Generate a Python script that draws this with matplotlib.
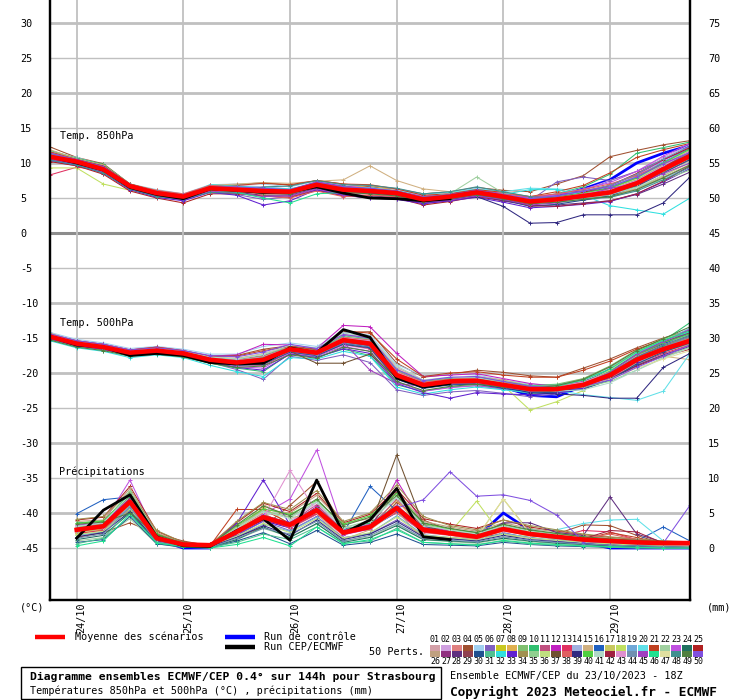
import matplotlib
matplotlib.use('Agg')
import matplotlib.pyplot as plt
from matplotlib.patches import Rectangle
from matplotlib.lines import Line2D

plt.rcParams['font.family'] = ['DejaVu Sans Mono']
plt.rcParams['axes.unicode_minus'] = False

# time axis: hours after 23/10/2023 18Z
hours = [0, 6, 12, 18, 24, 30, 36, 42, 48, 54, 60, 66, 72, 78, 84, 90, 96, 102, 108, 114, 120, 126, 132, 138, 144]
date_hours = [6, 30, 54, 78, 102, 126]
date_labels = ['24/10', '25/10', '26/10', '27/10', '28/10', '29/10']

left_ticks = [30, 25, 20, 15, 10, 5, 0, -5, -10, -15, -20, -25, -30, -35, -40, -45]
right_ticks = [75, 70, 65, 60, 55, 50, 45, 40, 35, 30, 25, 20, 15, 10, 5, 0]

member_colors = [
    '#d4a0a8', '#d0a0e0', '#e08080', '#a05030', '#a0d0f0', '#8060c0', '#c8c820', '#e0b050', '#80c070', '#30c070',
    '#c05080', '#c020c0', '#e03060', '#a0b0e0', '#d0b080', '#2060c0', '#c8c860', '#c0e060', '#70a8d8', '#60e0e8',
    '#c04020', '#a0d0a0', '#c050e0', '#207060', '#b02020',
    '#c0a080', '#903080', '#603080', '#904050', '#205090', '#50c090', '#30e0e0', '#6020d0', '#a09050', '#90d090',
    '#c0e080', '#705030', '#e06060', '#302880', '#50d040', '#b0d8c8', '#a02040', '#e090d0', '#7090b0', '#a040c0',
    '#20e090', '#e0e0a0', '#409090', '#508040', '#8050e0',
]

# Temperature 850 hPa (°C), 50 perturbed members
t850_members = [
    [10.5, 10.0, 9.3, 6.5, 5.5, 5.0, 6.2, 6.5, 6.3, 6.1, 7.0, 6.5, 6.3, 5.9, 5.0, 5.4, 6.0, 5.5, 4.8, 5.2, 5.8, 6.6, 8.0, 10.1, 12.0],
    [11.2, 10.4, 9.6, 7.0, 5.9, 5.4, 6.6, 6.8, 6.6, 6.3, 7.2, 6.9, 6.6, 6.2, 5.3, 5.5, 6.1, 5.6, 5.0, 5.6, 6.2, 7.5, 8.8, 10.8, 12.6],
    [10.8, 10.1, 8.8, 6.4, 5.4, 4.9, 6.1, 5.9, 5.6, 5.5, 6.5, 5.8, 5.5, 5.2, 4.4, 4.8, 5.4, 4.9, 4.3, 4.5, 5.0, 5.4, 6.6, 8.6, 10.4],
    [12.3, 10.8, 9.9, 7.0, 6.0, 5.5, 6.8, 6.9, 7.2, 6.8, 7.5, 7.0, 6.6, 6.3, 5.6, 5.9, 6.5, 6.1, 5.9, 7.0, 8.2, 10.9, 11.8, 12.6, 13.2],
    [11.6, 10.8, 9.7, 7.0, 6.2, 5.6, 6.9, 7.0, 7.0, 6.6, 7.4, 6.9, 6.8, 6.3, 5.4, 5.8, 6.4, 5.8, 5.0, 4.9, 5.0, 5.4, 6.4, 8.2, 10.2],
    [10.3, 9.6, 8.6, 6.2, 5.2, 4.7, 5.9, 5.5, 4.8, 5.2, 6.2, 5.4, 5.0, 4.9, 4.2, 4.6, 5.3, 4.7, 4.6, 7.3, 8.0, 7.5, 8.8, 10.5, 12.0],
    [11.5, 10.6, 9.5, 6.9, 5.9, 5.4, 6.5, 6.3, 6.1, 6.0, 7.1, 6.3, 6.1, 5.8, 4.9, 5.3, 5.9, 5.3, 4.6, 4.9, 5.3, 5.9, 7.3, 9.4, 11.4],
    [10.6, 10.0, 9.2, 6.6, 5.6, 5.1, 6.3, 6.1, 6.2, 5.8, 7.0, 6.4, 6.8, 6.0, 5.1, 5.0, 5.6, 5.1, 4.3, 4.6, 5.1, 5.6, 6.8, 8.8, 10.8],
    [11.0, 10.2, 9.1, 6.8, 5.8, 5.3, 6.4, 6.4, 6.3, 6.2, 7.2, 6.6, 6.2, 5.9, 5.0, 5.3, 6.1, 5.4, 4.7, 5.0, 5.6, 6.3, 7.8, 9.6, 11.4],
    [11.8, 10.7, 9.8, 7.0, 5.9, 5.4, 6.5, 6.2, 5.8, 5.6, 7.0, 6.1, 5.8, 5.6, 4.7, 5.0, 5.6, 5.3, 4.9, 5.6, 6.6, 8.4, 11.4, 12.2, 13.0],
    [10.7, 10.1, 8.9, 6.5, 5.5, 5.0, 6.2, 6.0, 5.7, 5.7, 6.7, 6.0, 5.8, 5.5, 4.6, 5.0, 5.5, 5.0, 4.4, 4.7, 5.2, 5.7, 6.9, 8.8, 10.6],
    [11.3, 10.5, 9.4, 6.9, 5.9, 5.3, 6.6, 6.6, 6.4, 6.1, 7.3, 6.7, 6.4, 6.0, 5.2, 5.6, 6.2, 5.6, 5.1, 5.5, 6.0, 6.8, 8.3, 10.4, 12.3],
    [8.3, 9.4, 9.0, 6.6, 5.6, 5.1, 6.3, 6.2, 5.9, 6.0, 6.9, 6.1, 5.9, 5.6, 4.7, 5.1, 5.7, 5.2, 4.6, 4.9, 5.5, 6.1, 7.4, 9.0, 10.7],
    [10.9, 10.2, 9.2, 6.7, 5.7, 5.2, 6.4, 6.1, 5.8, 5.8, 6.8, 6.1, 5.9, 5.5, 4.6, 4.9, 5.4, 4.8, 4.1, 4.3, 4.7, 5.1, 6.1, 7.8, 9.5],
    [11.9, 10.6, 9.7, 7.0, 6.1, 5.4, 6.8, 7.0, 7.2, 7.1, 7.4, 7.6, 9.6, 7.5, 6.3, 5.9, 6.0, 5.5, 4.9, 5.2, 5.6, 6.2, 7.5, 9.3, 11.2],
    [11.1, 10.3, 9.3, 6.8, 5.7, 5.2, 6.5, 6.4, 6.2, 6.0, 7.0, 6.3, 6.1, 5.9, 5.0, 5.4, 6.0, 5.3, 4.7, 5.1, 5.8, 6.5, 7.9, 10.1, 12.1],
    [10.6, 9.9, 8.7, 6.4, 5.4, 4.9, 6.1, 5.9, 5.6, 5.6, 6.6, 5.9, 5.7, 5.4, 4.5, 4.9, 5.5, 4.9, 4.2, 4.4, 4.9, 5.3, 6.4, 8.2, 10.1],
    [9.3, 9.3, 7.0, 6.1, 5.2, 4.8, 6.0, 6.0, 5.8, 5.9, 6.8, 6.2, 6.0, 5.7, 4.8, 5.2, 5.8, 5.2, 4.6, 4.8, 5.3, 5.9, 7.2, 9.0, 10.9],
    [11.4, 10.4, 9.5, 6.9, 5.8, 5.3, 6.6, 6.5, 6.3, 6.1, 7.2, 6.5, 6.3, 5.9, 5.0, 5.4, 6.0, 5.4, 4.8, 5.2, 5.9, 6.6, 8.1, 10.2, 12.0],
    [10.4, 9.8, 8.5, 6.3, 5.3, 4.8, 6.1, 6.3, 6.1, 6.2, 6.9, 6.4, 6.5, 6.0, 5.6, 5.8, 6.3, 5.9, 6.4, 6.3, 6.0, 6.6, 8.0, 9.8, 11.3],
    [11.6, 10.5, 9.6, 7.0, 6.0, 5.4, 6.7, 6.8, 7.1, 6.9, 7.5, 7.0, 6.9, 6.3, 5.4, 5.6, 6.2, 5.8, 5.2, 5.9, 6.8, 8.6, 10.8, 11.9, 12.8],
    [10.8, 10.1, 9.0, 6.6, 5.6, 5.1, 6.3, 6.2, 6.0, 6.1, 6.9, 6.3, 6.1, 6.0, 5.1, 5.6, 8.0, 5.7, 4.8, 5.0, 5.4, 5.9, 7.0, 8.8, 10.6],
    [11.2, 10.4, 9.4, 6.8, 5.8, 5.3, 6.5, 6.4, 6.2, 6.0, 7.1, 6.5, 6.2, 5.8, 5.0, 5.3, 5.9, 5.5, 5.0, 5.5, 6.3, 7.2, 8.8, 11.0, 12.8],
    [10.7, 10.0, 8.9, 6.5, 5.5, 5.0, 6.2, 6.0, 5.7, 5.7, 6.7, 6.0, 5.8, 5.6, 4.7, 5.1, 5.6, 5.1, 4.4, 4.6, 5.0, 5.5, 6.8, 8.9, 11.0],
    [10.2, 9.6, 8.4, 6.0, 5.0, 4.3, 5.6, 5.6, 5.3, 5.1, 6.1, 5.3, 5.1, 5.0, 4.0, 4.5, 5.2, 4.6, 4.1, 4.8, 5.8, 6.8, 8.5, 10.5, 12.2],
    [10.9, 10.3, 9.3, 6.8, 5.8, 5.3, 6.5, 6.3, 6.1, 6.0, 6.9, 6.2, 6.0, 5.6, 4.7, 5.0, 5.6, 5.0, 4.3, 4.5, 4.9, 5.3, 6.3, 8.0, 9.8],
    [11.1, 10.2, 9.1, 6.7, 5.6, 5.1, 6.3, 6.1, 5.9, 5.8, 6.8, 6.1, 5.9, 5.6, 4.8, 5.2, 5.8, 5.2, 4.6, 5.0, 5.5, 6.1, 7.4, 9.5, 11.6],
    [10.5, 9.9, 8.8, 6.4, 5.4, 4.9, 6.1, 5.8, 5.4, 5.4, 6.4, 5.6, 5.3, 5.1, 4.3, 4.7, 5.4, 4.6, 3.9, 4.0, 4.3, 4.6, 5.5, 7.0, 8.7],
    [11.3, 10.5, 9.5, 6.9, 5.9, 5.4, 6.6, 6.5, 6.3, 6.1, 7.2, 6.6, 6.3, 6.0, 5.1, 5.5, 6.1, 5.4, 4.7, 5.1, 5.7, 6.4, 7.6, 9.5, 11.3],
    [10.6, 10.0, 9.0, 6.6, 5.6, 5.1, 6.3, 6.0, 5.8, 5.7, 6.7, 6.0, 5.8, 5.5, 4.6, 5.0, 5.5, 4.8, 3.8, 4.1, 4.7, 5.3, 6.7, 8.6, 10.5],
    [11.0, 10.3, 9.2, 6.7, 5.7, 5.2, 6.4, 6.4, 6.1, 6.1, 7.0, 6.4, 6.2, 5.8, 4.9, 5.3, 5.9, 5.3, 4.6, 4.9, 5.5, 6.2, 7.6, 9.7, 11.8],
    [10.8, 10.1, 9.1, 6.7, 5.7, 5.2, 6.9, 6.7, 6.5, 6.3, 7.1, 6.6, 6.3, 5.9, 5.0, 5.4, 6.0, 5.5, 6.2, 6.2, 5.4, 3.9, 3.3, 2.7, 5.0],
    [10.4, 9.7, 8.6, 6.2, 5.1, 4.6, 5.8, 5.4, 4.0, 4.6, 6.2, 5.4, 5.0, 4.8, 4.2, 4.6, 5.1, 4.4, 3.6, 3.8, 4.1, 4.5, 5.6, 7.3, 9.2],
    [11.2, 10.4, 9.3, 6.8, 5.8, 5.3, 6.5, 6.3, 6.0, 6.0, 7.0, 6.3, 6.0, 5.8, 4.9, 5.3, 5.8, 5.2, 4.5, 4.8, 5.2, 5.7, 7.0, 8.9, 10.8],
    [10.9, 10.1, 9.0, 6.6, 5.6, 5.1, 6.3, 6.1, 5.8, 5.8, 6.8, 6.1, 5.8, 5.5, 4.7, 5.1, 5.6, 4.9, 4.3, 4.5, 5.0, 5.6, 6.6, 7.6, 9.0],
    [11.1, 10.4, 9.4, 6.8, 5.8, 5.3, 6.6, 6.5, 6.2, 6.0, 7.1, 6.4, 6.1, 5.8, 5.0, 5.4, 6.0, 5.3, 4.6, 5.0, 5.6, 6.3, 7.7, 9.8, 11.9],
    [10.7, 10.0, 8.9, 6.5, 5.5, 5.0, 6.2, 6.0, 5.9, 5.8, 6.8, 6.2, 5.9, 5.6, 4.7, 5.1, 5.7, 5.1, 4.4, 4.6, 5.1, 5.7, 7.0, 9.0, 11.0],
    [11.5, 10.4, 9.2, 6.9, 6.1, 5.6, 6.8, 6.6, 5.3, 5.0, 6.0, 5.2, 5.4, 5.2, 4.5, 4.9, 5.5, 5.6, 5.2, 5.6, 6.2, 7.0, 8.2, 9.9, 11.5],
    [10.6, 9.9, 8.9, 6.5, 5.5, 5.0, 6.2, 6.0, 5.7, 5.6, 6.6, 5.9, 5.7, 5.4, 4.6, 4.8, 5.2, 3.8, 1.4, 1.5, 2.6, 2.6, 2.6, 4.3, 8.0],
    [11.2, 10.4, 9.3, 6.8, 5.8, 5.3, 6.5, 6.4, 6.2, 6.1, 7.1, 6.4, 6.2, 5.9, 5.0, 5.4, 6.0, 5.4, 4.7, 5.1, 5.7, 6.4, 7.9, 10.0, 12.0],
    [10.8, 10.1, 9.0, 6.6, 5.6, 5.1, 6.3, 6.1, 5.9, 5.8, 6.8, 6.1, 5.9, 5.6, 4.7, 5.1, 5.6, 5.0, 4.4, 4.6, 5.0, 5.5, 6.5, 8.3, 10.2],
    [11.0, 10.3, 9.2, 6.7, 5.7, 5.2, 6.4, 6.2, 6.0, 5.9, 6.9, 6.2, 6.0, 5.6, 4.8, 5.1, 5.6, 4.9, 3.9, 3.8, 4.2, 4.6, 5.6, 7.4, 9.6],
    [10.9, 10.2, 9.1, 6.7, 5.7, 5.2, 6.4, 6.3, 6.1, 5.9, 7.0, 6.3, 6.1, 5.8, 4.9, 5.3, 5.9, 5.3, 4.6, 5.0, 5.6, 6.2, 7.5, 9.6, 11.7],
    [11.3, 10.4, 9.4, 6.9, 5.9, 5.4, 6.6, 6.5, 6.3, 6.2, 7.2, 6.5, 6.3, 5.9, 5.1, 5.4, 6.0, 5.4, 4.8, 5.3, 6.0, 6.8, 8.4, 10.6, 12.4],
    [10.5, 9.8, 8.7, 6.3, 5.3, 4.8, 6.0, 5.7, 5.2, 5.3, 6.3, 5.5, 5.1, 5.0, 4.4, 4.7, 5.3, 4.8, 4.0, 4.3, 5.3, 6.4, 7.0, 8.5, 10.0],
    [11.1, 10.3, 9.3, 6.8, 5.8, 5.3, 6.2, 5.8, 5.0, 4.3, 5.6, 5.8, 5.9, 5.7, 4.8, 5.2, 5.8, 5.2, 4.5, 4.8, 5.2, 5.8, 7.1, 9.0, 10.9],
    [10.7, 10.0, 9.0, 6.6, 5.6, 5.1, 6.3, 6.1, 5.9, 5.8, 6.8, 6.1, 5.9, 5.6, 4.7, 5.1, 5.7, 5.1, 4.4, 4.7, 5.2, 5.8, 7.0, 9.1, 11.1],
    [10.4, 9.7, 8.6, 6.3, 5.2, 4.9, 5.8, 5.7, 6.6, 6.7, 7.5, 6.9, 6.8, 6.4, 5.6, 5.9, 6.6, 5.9, 5.2, 5.0, 4.9, 5.1, 6.0, 7.6, 9.4],
    [10.8, 10.1, 9.0, 6.6, 5.6, 5.1, 6.3, 6.0, 5.7, 5.6, 6.6, 5.8, 5.6, 5.3, 4.5, 4.9, 5.5, 4.9, 4.2, 4.4, 4.8, 5.2, 6.2, 7.9, 9.7],
    [11.4, 10.5, 9.5, 6.9, 5.9, 5.4, 6.6, 6.6, 6.4, 6.2, 7.3, 6.6, 6.4, 6.0, 5.1, 5.5, 6.1, 5.5, 4.9, 5.3, 6.0, 6.6, 8.0, 9.9, 11.5],
]
t850_mean = [10.9, 10.2, 9.1, 6.7, 5.7, 5.2, 6.4, 6.2, 6.0, 5.9, 6.9, 6.2, 6.0, 5.7, 4.8, 5.2, 5.8, 5.2, 4.5, 4.8, 5.3, 5.8, 7.1, 9.1, 11.0]
t850_ctrl = [10.9, 10.1, 9.2, 6.6, 5.6, 5.1, 6.4, 6.3, 6.1, 6.0, 7.0, 6.3, 6.1, 5.8, 4.9, 5.3, 5.9, 5.3, 4.7, 5.2, 6.3, 7.6, 10.0, 11.4, 12.5]
t850_det = [10.9, 10.0, 9.0, 6.5, 5.5, 4.9, 6.3, 6.1, 5.8, 5.9, 6.6, 5.7, 5.0, 4.9, 4.6, 4.9]

# Temperature 500 hPa (°C)
t500_members = [
    [-14.6, -15.6, -16.0, -16.9, -16.5, -17.0, -17.9, -18.0, -17.2, -16.2, -16.8, -14.5, -14.9, -19.2, -21.0, -20.8, -20.8, -21.4, -22.0, -21.8, -20.8, -19.2, -17.0, -15.6, -14.6],
    [-15.0, -16.0, -16.5, -17.3, -17.0, -17.4, -18.4, -19.0, -19.0, -17.0, -17.5, -16.0, -16.6, -20.9, -22.1, -21.6, -21.4, -22.0, -22.6, -22.7, -22.2, -21.0, -19.0, -17.4, -16.0],
    [-14.9, -15.9, -16.4, -17.2, -16.9, -17.3, -18.2, -18.6, -18.3, -16.7, -17.2, -15.5, -16.0, -20.4, -21.8, -21.3, -21.2, -21.8, -22.4, -22.4, -21.8, -20.5, -18.3, -16.8, -15.6],
    [-14.7, -15.5, -16.0, -16.8, -16.4, -16.9, -17.6, -17.5, -16.6, -16.1, -16.6, -14.2, -14.1, -18.6, -20.6, -20.2, -19.6, -19.9, -20.4, -20.6, -19.3, -18.0, -16.4, -15.0, -13.9],
    [-14.2, -15.2, -15.7, -16.5, -16.2, -16.6, -17.3, -17.3, -16.2, -15.7, -16.2, -14.1, -14.6, -18.8, -20.4, -20.1, -20.3, -21.0, -21.6, -21.7, -21.2, -20.0, -18.1, -16.8, -15.9],
    [-15.1, -16.1, -16.6, -17.4, -17.1, -17.5, -18.5, -19.5, -20.9, -17.6, -18.2, -17.4, -18.5, -22.4, -23.2, -22.7, -22.5, -22.9, -23.4, -23.0, -22.0, -20.5, -17.9, -16.1, -14.7],
    [-14.5, -15.6, -16.1, -16.9, -16.6, -17.0, -17.9, -18.2, -17.7, -16.5, -17.0, -15.0, -15.4, -19.9, -21.4, -20.9, -20.9, -21.5, -22.1, -22.0, -21.4, -20.0, -17.8, -16.2, -14.9],
    [-14.9, -15.9, -16.4, -17.2, -16.9, -17.3, -18.3, -18.8, -18.6, -16.8, -17.3, -15.7, -16.2, -20.6, -21.9, -21.4, -21.3, -21.9, -22.5, -22.5, -22.0, -20.7, -18.5, -17.0, -15.8],
    [-14.6, -15.7, -16.2, -17.0, -16.7, -17.1, -18.0, -18.3, -17.8, -16.4, -16.9, -14.9, -15.3, -19.8, -21.3, -20.9, -20.8, -21.3, -21.8, -21.6, -20.8, -19.0, -16.7, -15.1, -13.8],
    [-15.2, -16.2, -16.7, -17.5, -17.2, -17.6, -18.6, -19.3, -19.8, -17.2, -17.7, -16.6, -17.5, -21.7, -22.6, -22.0, -21.8, -22.3, -22.9, -22.8, -21.9, -20.2, -17.6, -15.4, -12.8],
    [-14.8, -15.9, -16.4, -17.2, -16.8, -17.3, -18.2, -18.6, -18.2, -16.7, -17.2, -15.4, -15.9, -20.4, -21.8, -21.3, -21.2, -21.8, -22.4, -22.4, -21.8, -20.4, -18.3, -16.8, -15.7],
    [-14.4, -15.4, -15.9, -16.7, -16.3, -16.8, -17.6, -17.4, -15.9, -16.0, -16.5, -13.2, -13.4, -17.2, -20.5, -20.3, -20.1, -20.8, -21.5, -21.9, -21.2, -19.8, -17.6, -16.0, -14.8],
    [-15.0, -16.1, -16.6, -17.4, -17.1, -17.5, -18.4, -18.9, -18.9, -17.0, -17.5, -15.9, -16.5, -20.8, -22.0, -21.5, -21.4, -22.0, -22.6, -22.6, -22.1, -20.8, -18.7, -17.2, -16.0],
    [-14.7, -15.7, -16.2, -17.0, -16.7, -17.1, -18.0, -18.4, -17.9, -16.5, -17.0, -15.1, -15.6, -20.1, -21.5, -21.1, -21.0, -21.6, -22.2, -22.1, -21.6, -20.3, -18.4, -17.6, -16.2],
    [-14.3, -15.5, -16.0, -16.8, -16.4, -16.9, -17.7, -17.9, -17.3, -16.3, -16.8, -14.6, -15.0, -19.4, -21.2, -20.8, -20.5, -21.0, -21.8, -21.9, -21.4, -20.5, -18.7, -17.6, -18.1],
    [-14.9, -15.8, -16.3, -17.1, -16.8, -17.2, -18.1, -18.6, -18.2, -16.7, -17.2, -15.5, -16.0, -20.5, -21.9, -21.4, -21.3, -21.9, -22.4, -22.3, -21.3, -19.6, -17.3, -15.6, -14.3],
    [-14.8, -15.7, -16.2, -17.0, -16.7, -17.1, -18.0, -18.4, -18.0, -16.5, -17.0, -15.2, -15.7, -20.2, -21.6, -21.1, -21.0, -21.6, -22.2, -22.2, -21.6, -20.1, -17.9, -16.4, -15.2],
    [-14.6, -15.6, -16.1, -16.9, -16.6, -17.0, -17.9, -18.2, -17.6, -16.4, -16.9, -14.9, -15.4, -19.9, -21.4, -21.0, -21.0, -21.8, -25.3, -24.1, -22.5, -20.2, -17.8, -16.2, -15.0],
    [-15.0, -16.0, -16.5, -17.3, -17.0, -17.4, -18.4, -18.9, -18.8, -16.9, -17.4, -15.8, -16.3, -20.7, -22.0, -21.5, -21.4, -22.0, -22.6, -22.6, -22.0, -20.6, -18.0, -15.5, -13.6],
    [-14.7, -15.7, -16.2, -17.0, -16.7, -17.1, -18.0, -18.3, -17.8, -16.5, -17.0, -15.0, -15.5, -20.0, -21.5, -21.0, -20.9, -21.6, -22.2, -22.5, -23.1, -23.5, -23.9, -22.6, -17.2],
    [-14.5, -15.4, -15.9, -16.7, -16.3, -16.8, -17.6, -17.6, -16.8, -16.2, -16.7, -14.0, -14.3, -18.0, -20.5, -20.0, -19.8, -20.3, -20.6, -20.6, -19.6, -18.3, -16.6, -15.3, -14.2],
    [-14.9, -15.9, -16.4, -17.2, -16.9, -17.3, -18.3, -18.7, -18.4, -16.8, -17.3, -15.6, -16.1, -20.5, -21.9, -21.4, -21.3, -21.9, -22.5, -22.5, -21.9, -20.2, -17.8, -16.0, -14.4],
    [-15.1, -16.1, -16.6, -17.4, -17.1, -17.5, -18.5, -19.1, -19.3, -17.1, -17.6, -16.2, -16.9, -21.3, -22.6, -22.1, -21.8, -22.3, -22.8, -22.7, -21.8, -20.2, -17.8, -16.1, -14.9],
    [-14.7, -15.7, -16.2, -17.0, -16.7, -17.1, -18.0, -18.4, -17.9, -16.5, -17.0, -15.2, -15.7, -20.2, -21.6, -21.1, -21.0, -21.6, -22.2, -22.2, -21.5, -20.0, -17.7, -16.1, -14.7],
    [-14.8, -15.8, -16.3, -17.1, -16.8, -17.2, -18.1, -18.5, -18.2, -16.7, -17.2, -15.5, -16.0, -20.6, -22.0, -21.5, -21.4, -22.0, -22.5, -22.5, -22.0, -20.9, -19.0, -17.6, -16.6],
    [-14.6, -15.6, -16.1, -16.9, -16.6, -17.0, -17.9, -18.2, -17.7, -16.4, -16.9, -15.0, -15.4, -19.9, -21.4, -20.9, -20.8, -21.4, -22.0, -22.0, -21.4, -20.2, -18.2, -16.9, -15.9],
    [-14.9, -15.9, -16.4, -17.2, -16.9, -17.3, -18.2, -18.7, -18.4, -16.8, -17.3, -15.6, -16.1, -20.5, -21.9, -21.4, -21.3, -21.9, -22.5, -22.4, -21.7, -20.1, -17.6, -15.7, -14.1],
    [-15.0, -16.0, -16.5, -17.3, -17.0, -17.4, -18.3, -18.8, -18.6, -16.9, -17.4, -15.7, -16.2, -20.6, -22.0, -21.5, -21.4, -22.0, -22.6, -22.6, -22.1, -20.9, -18.9, -17.4, -16.2],
    [-14.7, -15.7, -16.2, -17.0, -16.7, -17.1, -18.0, -18.3, -17.9, -16.5, -17.0, -15.1, -15.6, -20.1, -21.5, -21.0, -20.9, -21.5, -22.1, -22.1, -21.5, -20.2, -18.0, -16.5, -15.3],
    [-15.0, -16.0, -16.5, -17.3, -17.0, -17.4, -18.4, -18.9, -18.7, -17.0, -17.5, -15.9, -16.4, -20.9, -22.2, -21.7, -21.6, -22.2, -22.8, -22.8, -22.3, -21.0, -18.7, -17.0, -15.7],
    [-14.6, -15.6, -16.1, -16.9, -16.5, -17.0, -17.8, -18.1, -17.5, -16.3, -16.8, -14.7, -15.1, -19.6, -21.2, -20.7, -20.6, -21.2, -21.8, -21.7, -21.0, -19.5, -17.1, -15.3, -13.9],
    [-15.4, -16.4, -16.9, -17.8, -17.4, -17.8, -18.9, -19.8, -20.5, -17.8, -18.0, -16.9, -17.6, -22.0, -23.0, -22.4, -22.0, -22.4, -22.8, -22.5, -21.5, -19.6, -17.1, -15.3, -14.1],
    [-15.1, -16.1, -16.6, -17.4, -17.1, -17.5, -18.5, -19.2, -19.6, -17.3, -17.8, -16.5, -17.2, -21.5, -22.8, -23.6, -22.8, -23.0, -23.1, -22.9, -22.1, -20.6, -18.4, -16.7, -15.4],
    [-14.8, -15.8, -16.3, -17.1, -16.8, -17.2, -18.1, -18.5, -18.1, -16.6, -17.1, -15.3, -15.8, -20.2, -21.6, -21.1, -21.0, -21.6, -22.1, -22.0, -21.3, -19.8, -17.5, -16.0, -14.9],
    [-14.7, -15.7, -16.2, -17.0, -16.7, -17.1, -18.0, -18.4, -17.9, -16.5, -17.0, -15.2, -15.7, -20.2, -21.6, -21.1, -21.0, -21.6, -22.2, -22.4, -22.0, -21.2, -19.6, -17.8, -16.3],
    [-14.9, -15.9, -16.4, -17.2, -16.9, -17.3, -18.2, -18.7, -18.3, -16.7, -17.2, -15.4, -15.9, -20.4, -21.8, -21.3, -21.2, -21.8, -22.4, -22.3, -21.5, -19.6, -17.0, -15.2, -14.0],
    [-14.9, -15.9, -16.4, -17.3, -17.0, -17.4, -18.3, -18.8, -18.5, -16.9, -18.6, -18.6, -17.3, -20.7, -22.0, -21.5, -21.4, -22.0, -22.6, -22.6, -21.9, -20.5, -18.2, -16.7, -15.5],
    [-14.6, -15.6, -16.1, -16.9, -16.6, -17.0, -17.9, -18.2, -17.6, -16.4, -16.9, -14.9, -15.3, -19.8, -21.3, -20.9, -20.8, -21.4, -22.0, -22.0, -21.4, -20.0, -17.8, -16.3, -15.1],
    [-15.0, -16.0, -16.5, -17.3, -17.0, -17.4, -18.3, -18.8, -18.6, -16.9, -17.4, -15.7, -16.2, -20.6, -22.0, -21.5, -21.4, -22.0, -22.8, -23.0, -23.2, -23.6, -23.6, -19.2, -17.2],
    [-14.7, -15.7, -16.2, -17.0, -16.7, -17.1, -18.0, -18.4, -18.0, -16.6, -17.1, -15.3, -15.8, -20.3, -21.7, -21.2, -21.1, -21.7, -22.3, -22.2, -21.4, -19.8, -17.4, -15.7, -14.4],
    [-14.5, -15.5, -16.1, -16.9, -16.5, -16.9, -17.7, -18.0, -17.3, -16.0, -16.4, -14.3, -14.8, -19.0, -21.0, -20.6, -20.7, -21.4, -22.2, -22.6, -22.4, -21.4, -19.6, -17.9, -16.4],
    [-14.9, -15.9, -16.4, -17.2, -16.9, -17.3, -18.2, -18.6, -18.3, -16.7, -17.2, -15.4, -15.9, -20.4, -21.8, -21.3, -21.2, -21.8, -22.4, -22.4, -21.8, -20.4, -18.2, -16.6, -15.3],
    [-14.6, -15.6, -16.1, -16.9, -16.6, -17.0, -17.9, -18.2, -17.7, -16.4, -16.9, -15.0, -15.4, -19.9, -21.4, -21.0, -20.9, -21.5, -22.1, -22.0, -21.3, -19.9, -17.6, -16.0, -14.6],
    [-15.0, -16.0, -16.5, -17.3, -17.0, -17.4, -18.3, -18.8, -18.6, -16.9, -17.4, -15.7, -16.2, -20.6, -22.0, -21.5, -21.4, -22.0, -22.6, -22.5, -21.8, -20.3, -18.0, -16.3, -14.8],
    [-14.9, -15.9, -16.4, -17.2, -16.9, -17.3, -18.2, -18.7, -18.4, -16.8, -17.3, -15.6, -19.6, -21.5, -21.9, -21.4, -21.3, -21.9, -22.5, -22.4, -21.6, -19.9, -17.3, -15.5, -13.8],
    [-14.7, -15.7, -16.2, -17.0, -16.7, -17.1, -18.0, -18.3, -17.8, -16.5, -17.0, -15.1, -15.6, -20.1, -21.5, -21.0, -20.9, -21.5, -22.0, -21.9, -21.0, -19.4, -17.0, -15.3, -14.0],
    [-14.8, -15.8, -16.3, -17.1, -16.8, -17.2, -18.1, -18.5, -18.1, -16.6, -17.1, -15.3, -15.8, -20.3, -21.7, -21.2, -21.1, -21.7, -22.3, -22.3, -21.9, -20.9, -19.3, -18.0, -16.8],
    [-14.9, -15.9, -16.4, -17.2, -16.9, -17.3, -18.2, -18.6, -18.3, -16.7, -17.2, -15.4, -15.9, -20.4, -21.8, -21.3, -21.2, -21.8, -22.4, -22.3, -21.6, -20.0, -17.7, -16.0, -14.6],
    [-15.3, -16.3, -16.8, -17.6, -17.3, -17.7, -18.6, -19.2, -19.0, -17.4, -17.9, -16.3, -16.9, -21.2, -22.5, -21.9, -21.6, -22.0, -22.2, -21.8, -20.9, -19.1, -16.8, -15.1, -13.4],
    [-14.4, -15.4, -15.9, -16.7, -16.4, -16.8, -17.5, -17.7, -17.0, -15.9, -16.5, -14.5, -15.0, -19.5, -21.1, -20.6, -20.5, -21.2, -21.9, -22.1, -21.9, -21.0, -19.2, -17.6, -16.0],
]
t500_mean = [-14.8, -15.8, -16.3, -17.1, -16.8, -17.2, -18.1, -18.5, -18.1, -16.6, -17.1, -15.3, -15.8, -20.3, -21.7, -21.2, -21.1, -21.7, -22.3, -22.3, -21.7, -20.3, -18.1, -16.6, -15.4]
t500_ctrl = [-14.8, -15.8, -16.3, -17.1, -16.8, -17.2, -18.1, -18.6, -18.3, -16.6, -17.1, -15.4, -16.0, -20.6, -22.0, -21.5, -21.4, -22.0, -23.2, -23.4, -21.8, -19.5, -17.8, -15.9, -14.4]
t500_det = [-14.8, -16.0, -16.3, -17.5, -17.2, -17.5, -18.5, -18.7, -18.6, -16.4, -17.1, -13.8, -14.9, -20.7, -22.0, -21.5]

# Precipitation (mm per 6 h), from hour 6 to 144
precip_members = [
    [2.2, 3.0, 6.0, 1.2, 0.4, 0.3, 2.5, 4.6, 3.0, 5.0, 2.0, 3.5, 5.5, 2.4, 2.0, 1.4, 2.5, 1.8, 1.2, 0.9, 0.6, 0.4, 0.2, 0.2],
    [3.0, 3.4, 7.2, 1.6, 0.5, 0.2, 2.0, 4.0, 3.8, 6.5, 2.5, 2.8, 6.2, 2.8, 2.2, 1.8, 3.0, 2.2, 1.5, 1.0, 0.8, 0.5, 0.3, 0.3],
    [2.4, 2.8, 6.5, 1.3, 0.6, 0.5, 2.8, 5.0, 2.8, 4.8, 1.8, 3.2, 5.0, 2.2, 1.8, 1.2, 2.6, 2.0, 1.4, 1.0, 0.7, 0.5, 0.4, 0.4],
    [1.5, 2.2, 3.6, 2.0, 1.0, 0.3, 1.6, 3.0, 6.1, 9.5, 3.0, 2.5, 6.5, 4.0, 2.5, 1.5, 2.0, 1.5, 2.0, 3.3, 3.2, 1.8, 0.6, 0.5],
    [2.8, 3.2, 6.8, 1.5, 0.4, 0.2, 2.2, 4.2, 3.5, 5.5, 2.1, 3.1, 5.6, 2.5, 2.0, 1.6, 2.8, 1.9, 1.3, 1.0, 0.7, 0.5, 0.3, 0.2],
    [3.3, 3.5, 7.0, 1.4, 0.3, 0.1, 1.8, 3.8, 2.5, 4.5, 1.5, 2.0, 4.0, 1.8, 1.4, 1.0, 2.2, 1.4, 1.0, 0.8, 0.5, 0.3, 0.2, 0.1],
    [2.0, 2.6, 6.2, 1.1, 0.5, 0.4, 2.6, 4.8, 3.2, 5.2, 2.3, 3.4, 5.8, 2.6, 2.2, 1.8, 3.2, 2.4, 1.8, 1.4, 1.1, 0.8, 0.5, 0.4],
    [2.6, 3.1, 6.6, 1.4, 0.5, 0.3, 2.4, 5.8, 3.4, 5.6, 2.2, 3.0, 6.8, 2.7, 2.2, 1.7, 2.9, 2.0, 1.5, 1.2, 0.9, 0.6, 0.4, 0.3],
    [2.5, 3.0, 6.4, 1.3, 0.5, 0.3, 2.1, 4.3, 3.1, 5.3, 2.3, 3.3, 5.4, 2.5, 2.3, 1.9, 3.3, 2.1, 1.6, 1.3, 1.0, 0.7, 0.5, 0.4],
    [3.6, 3.8, 7.8, 1.8, 0.6, 0.2, 2.3, 4.5, 3.3, 5.8, 2.6, 3.6, 6.0, 2.9, 2.4, 1.8, 2.6, 1.8, 1.4, 1.1, 0.9, 0.6, 0.5, 0.4],
    [2.3, 2.7, 5.8, 1.2, 0.4, 0.3, 2.0, 4.1, 3.6, 6.2, 2.4, 2.9, 7.0, 3.0, 2.6, 2.0, 3.1, 2.4, 2.0, 1.6, 1.3, 1.0, 0.8, 0.6],
    [2.9, 3.3, 7.5, 1.6, 0.5, 0.2, 2.4, 4.4, 3.0, 6.0, 1.9, 2.7, 9.7, 3.4, 2.3, 1.7, 2.8, 2.0, 1.5, 1.2, 0.9, 0.7, 0.5, 0.4],
    [2.1, 2.5, 5.5, 1.0, 0.4, 0.3, 2.2, 4.0, 2.9, 4.9, 2.0, 3.0, 5.1, 2.3, 1.9, 1.5, 2.6, 1.9, 1.6, 2.5, 2.3, 1.2, 0.6, 0.5],
    [2.7, 3.2, 6.9, 1.5, 0.5, 0.4, 2.5, 4.7, 3.5, 5.6, 2.4, 3.2, 5.8, 2.6, 2.1, 1.6, 2.7, 2.0, 1.5, 1.1, 0.8, 0.6, 0.4, 0.3],
    [2.4, 2.9, 6.3, 1.3, 0.5, 0.3, 2.3, 6.2, 4.3, 5.0, 1.2, 2.6, 5.3, 1.2, 1.5, 1.3, 2.4, 1.8, 1.5, 1.3, 1.1, 0.9, 0.6, 0.5],
    [4.9, 6.9, 7.3, 1.6, 0.5, 0.2, 2.1, 4.1, 3.2, 5.4, 2.1, 8.8, 5.3, 3.2, 2.0, 1.6, 2.8, 2.0, 1.6, 1.3, 1.2, 1.0, 3.0, 1.0],
    [2.4, 3.0, 6.3, 1.3, 0.5, 0.3, 2.2, 4.3, 3.2, 5.2, 2.1, 2.9, 5.5, 2.5, 2.0, 1.5, 7.0, 2.2, 1.5, 1.1, 0.9, 0.7, 0.5, 0.4],
    [2.2, 2.8, 6.1, 1.3, 0.4, 0.3, 2.4, 4.6, 3.4, 5.7, 2.3, 3.1, 5.9, 2.6, 2.2, 6.7, 1.5, 1.8, 1.4, 1.1, 0.9, 0.7, 0.5, 0.4],
    [1.8, 2.3, 6.0, 1.0, 0.3, 0.2, 1.6, 3.4, 2.4, 4.4, 1.4, 2.1, 4.6, 1.9, 1.5, 1.1, 2.1, 1.5, 1.1, 0.8, 0.6, 0.4, 0.3, 0.2],
    [2.5, 2.9, 6.4, 1.3, 0.4, 0.2, 2.2, 4.3, 3.1, 5.3, 2.1, 2.9, 5.6, 2.5, 2.0, 2.5, 2.8, 2.6, 2.6, 3.5, 4.0, 4.1, 1.0, 0.5],
    [2.8, 3.3, 6.9, 1.5, 0.5, 0.3, 5.5, 5.5, 3.5, 5.6, 2.3, 3.1, 5.8, 2.7, 2.2, 1.6, 2.6, 1.9, 1.5, 1.2, 2.2, 1.5, 0.6, 0.5],
    [1.0, 1.5, 4.2, 0.6, 0.1, 0.0, 1.2, 2.8, 1.6, 3.4, 1.0, 1.6, 3.4, 1.2, 0.9, 0.7, 1.3, 0.9, 0.6, 0.4, 0.2, 0.1, 0.0, 0.0],
    [3.2, 3.6, 9.7, 1.6, 0.5, 0.2, 2.4, 4.8, 7.0, 14.0, 2.5, 3.4, 6.0, 2.8, 2.2, 1.7, 2.8, 2.1, 1.6, 1.2, 1.0, 0.8, 0.6, 0.5],
    [1.2, 1.8, 5.0, 0.8, 0.2, 0.1, 1.2, 3.0, 1.5, 3.5, 0.8, 1.5, 3.2, 1.2, 1.0, 0.8, 1.4, 1.0, 0.7, 0.5, 0.3, 0.2, 0.1, 0.1],
    [4.0, 4.4, 8.8, 2.4, 0.8, 0.5, 3.6, 6.4, 5.2, 7.8, 3.6, 4.8, 8.4, 4.2, 3.4, 2.8, 4.0, 3.0, 2.4, 1.9, 1.5, 1.2, 1.0, 0.9],
    [3.8, 4.0, 8.5, 2.2, 0.7, 0.4, 3.0, 5.5, 5.0, 7.5, 3.5, 4.2, 8.0, 3.8, 3.0, 2.4, 3.6, 2.8, 2.3, 1.8, 1.4, 1.2, 0.9, 0.8],
    [2.9, 3.4, 7.1, 1.5, 0.5, 0.3, 2.5, 4.7, 3.6, 5.8, 2.4, 3.3, 6.0, 2.8, 2.3, 1.8, 2.9, 2.2, 1.7, 1.3, 1.1, 0.9, 0.7, 0.6],
    [2.5, 3.0, 6.4, 1.3, 0.5, 0.3, 2.2, 4.4, 3.2, 5.4, 2.2, 3.0, 5.7, 2.6, 2.1, 1.6, 3.6, 3.6, 2.2, 1.8, 7.3, 2.0, 0.8, 0.6],
    [2.7, 3.2, 6.8, 1.4, 0.5, 0.3, 2.4, 4.6, 3.4, 5.5, 2.3, 3.1, 8.0, 2.7, 2.2, 1.7, 2.8, 2.1, 1.6, 1.2, 1.0, 0.8, 0.6, 0.5],
    [0.8, 1.2, 4.5, 0.6, 0.1, 0.0, 1.0, 2.2, 0.6, 2.5, 0.4, 0.8, 2.0, 0.5, 0.4, 0.3, 0.8, 0.5, 0.3, 0.2, 0.1, 0.0, 0.0, 0.0],
    [0.6, 1.4, 5.4, 0.8, 0.2, 0.1, 0.8, 2.0, 1.2, 3.0, 0.7, 1.0, 2.8, 0.8, 0.6, 0.5, 1.0, 0.6, 0.4, 0.3, 0.1, 0.0, 0.0, 0.0],
    [2.8, 3.2, 6.8, 1.5, 0.5, 0.3, 2.4, 4.5, 3.4, 5.6, 2.3, 3.1, 5.8, 2.7, 2.2, 1.7, 2.8, 2.1, 1.6, 1.2, 1.0, 0.8, 0.6, 0.5],
    [2.5, 3.0, 6.5, 1.3, 0.5, 0.3, 3.5, 9.7, 3.3, 5.3, 2.2, 3.0, 5.6, 2.6, 2.1, 1.6, 2.7, 2.0, 1.6, 1.2, 1.0, 0.8, 0.6, 0.5],
    [4.1, 4.5, 8.0, 2.5, 0.8, 0.4, 3.8, 6.5, 5.5, 8.2, 3.8, 5.0, 9.0, 4.5, 3.2, 2.6, 4.0, 3.2, 2.6, 2.0, 1.6, 1.3, 1.0, 0.8],
    [3.0, 3.4, 8.2, 1.8, 0.6, 0.3, 2.9, 5.3, 4.4, 6.6, 2.9, 3.9, 7.4, 3.3, 2.6, 2.0, 3.0, 2.3, 1.9, 1.5, 1.2, 0.9, 0.7, 0.6],
    [1.9, 2.4, 5.6, 1.0, 0.3, 0.2, 1.7, 3.5, 2.2, 4.2, 1.4, 2.2, 4.4, 1.8, 1.5, 1.1, 2.0, 1.4, 1.1, 0.8, 0.6, 0.4, 0.3, 0.2],
    [2.4, 2.9, 6.3, 1.3, 0.5, 0.3, 2.2, 4.3, 3.4, 5.8, 2.2, 3.0, 13.3, 3.3, 2.1, 1.6, 2.7, 2.0, 1.6, 1.2, 1.0, 0.8, 0.6, 0.5],
    [2.8, 3.3, 6.9, 1.5, 0.5, 0.3, 2.4, 4.6, 3.5, 5.7, 2.3, 3.2, 5.9, 2.7, 2.2, 1.7, 2.8, 2.1, 1.7, 1.3, 2.0, 1.2, 0.7, 0.6],
    [1.6, 2.2, 5.2, 1.0, 0.3, 0.2, 1.5, 3.2, 1.8, 4.0, 1.2, 2.0, 3.8, 1.6, 1.3, 1.0, 1.8, 1.2, 0.9, 0.6, 0.4, 0.3, 0.2, 0.1],
    [3.5, 3.9, 7.4, 2.0, 0.6, 0.4, 3.2, 5.6, 4.8, 6.8, 3.4, 4.6, 7.8, 3.5, 2.7, 2.2, 3.3, 2.5, 2.0, 1.6, 1.2, 1.0, 0.8, 0.7],
    [3.1, 3.6, 7.6, 1.7, 0.6, 0.4, 2.8, 5.2, 4.2, 6.6, 2.8, 3.8, 7.2, 3.2, 2.6, 2.0, 3.2, 2.4, 1.9, 1.5, 1.2, 1.0, 0.8, 0.6],
    [2.7, 3.2, 6.8, 1.4, 0.5, 0.3, 2.4, 4.5, 3.4, 5.5, 2.3, 3.1, 5.8, 2.7, 2.2, 1.7, 2.8, 2.1, 1.7, 1.3, 2.5, 2.3, 0.7, 0.6],
    [2.4, 2.9, 6.3, 1.3, 0.5, 0.3, 2.2, 4.3, 11.1, 5.2, 2.1, 2.9, 5.5, 2.5, 2.0, 1.5, 2.6, 1.9, 1.5, 1.1, 0.9, 0.7, 0.5, 0.4],
    [1.4, 2.0, 5.8, 0.9, 0.3, 0.1, 1.4, 2.8, 2.0, 3.8, 1.0, 1.8, 3.5, 1.4, 1.1, 0.9, 1.6, 1.1, 0.8, 0.6, 0.4, 0.3, 0.2, 0.1],
    [2.8, 3.3, 6.9, 1.5, 0.5, 0.3, 2.4, 4.6, 3.5, 5.7, 2.3, 3.2, 5.9, 2.7, 2.2, 1.7, 2.8, 2.1, 1.7, 1.3, 1.0, 0.8, 0.6, 0.5],
    [0.3, 1.0, 4.8, 0.7, 0.2, 0.0, 0.5, 1.5, 0.3, 3.0, 0.6, 1.2, 2.6, 0.8, 0.6, 0.4, 1.1, 0.7, 0.5, 0.3, 0.2, 0.1, 0.0, 0.0],
    [2.5, 3.0, 6.5, 1.3, 0.5, 0.3, 2.2, 4.4, 3.2, 5.3, 2.2, 3.0, 5.6, 2.6, 2.1, 1.5, 7.0, 2.0, 1.6, 1.2, 1.0, 0.8, 0.6, 0.5],
    [2.7, 3.1, 6.7, 1.4, 0.5, 0.3, 2.4, 4.5, 3.4, 5.5, 2.3, 3.1, 5.8, 2.7, 2.2, 1.7, 2.8, 2.1, 1.7, 1.3, 1.1, 0.9, 0.7, 0.6],
    [3.4, 3.7, 5.0, 1.9, 0.7, 0.4, 3.3, 6.0, 4.6, 7.0, 3.2, 4.4, 7.5, 3.6, 2.8, 2.2, 3.4, 2.6, 2.1, 1.6, 1.3, 1.1, 0.9, 0.7],
    [2.6, 3.1, 6.6, 1.4, 0.5, 0.3, 2.3, 4.4, 3.3, 5.4, 2.2, 3.0, 5.7, 6.9, 10.9, 7.4, 7.6, 6.8, 4.7, 0.9, 0.8, 0.7, 0.7, 6.1],
]
precip_mean = [2.6, 3.1, 6.6, 1.4, 0.5, 0.4, 2.3, 4.4, 3.3, 5.4, 2.2, 3.0, 5.7, 2.6, 2.1, 1.6, 2.7, 2.0, 1.6, 1.2, 1.0, 0.8, 0.7, 0.7]
precip_ctrl = [2.5, 3.0, 6.2, 1.2, 0.0, 0.0, 2.0, 4.0, 3.0, 5.0, 2.5, 3.0, 5.2, 2.4, 2.0, 1.5, 5.0, 2.5, 1.2, 0.8, 0.0, 0.0, 0.0, 0.0]
precip_det = [1.4, 5.4, 7.6, 1.6, 0.3, 0.2, 2.5, 4.2, 1.1, 9.7, 2.1, 4.0, 8.5, 1.6, 1.2]

W, H = 740, 700


def fpos(x, y):
    # pixel position -> figure fraction
    return x / W, 1 - y / H


def draw_grid(ax):
    for v in left_ticks:
        if v == 0:
            ax.axhline(v, color='#8c8c8c', lw=2.2, zorder=1)
        elif v % 10 == 0:
            ax.axhline(v, color='#c0c0c0', lw=2.0, zorder=1)
        else:
            ax.axhline(v, color='#c0c0c0', lw=1.0, zorder=1)
    for h in date_hours:
        ax.axvline(h, color='#c0c0c0', lw=1.3, zorder=1)


def draw_members(ax, x, members, lw=0.75):
    for k, row in enumerate(members):
        ax.plot(x, row, color=member_colors[k], lw=lw, marker='+', ms=3, mew=0.7, zorder=2)


def draw_legend(fig):
    for (x1, x2, y, c) in [(35, 65, 637, '#ff0000'), (225, 255, 637, '#0000ff'), (225, 255, 647, '#000000')]:
        (a, b), (c2, d) = fpos(x1, y), fpos(x2, y)
        fig.add_artist(Line2D([a, c2], [b, d], color=c, lw=3.2, transform=fig.transFigure, solid_capstyle='butt'))
    fig.text(*fpos(75, 637), 'Moyenne des scénarios', fontsize=7.3, va='center')
    fig.text(*fpos(264, 637), 'Run de contrôle', fontsize=7.3, va='center')
    fig.text(*fpos(264, 647), 'Run CEP/ECMWF', fontsize=7.3, va='center')
    fig.text(*fpos(369, 652), '50 Perts.', fontsize=7.3, va='center')

    step = 10.96
    for k in range(25):
        x0 = 430 + k * step
        for row, y0 in [(0, 645), (1, 651)]:
            fx, fy = fpos(x0, y0 + 6)
            fig.add_artist(Rectangle((fx, fy), 10 / W, 6 / H, transform=fig.transFigure,
                                     facecolor=member_colors[k + 25 * row], edgecolor='none'))
        fig.text(*fpos(x0 + 5, 640), '%02d' % (k + 1), fontsize=6, ha='center', va='center')
        fig.text(*fpos(x0 + 5, 662), '%02d' % (k + 26), fontsize=6, ha='center', va='center')


def draw_footer(fig):
    fx, fy = fpos(20.5, 698.5)
    fig.add_artist(Rectangle((fx, fy), 420 / W, 31.5 / H, transform=fig.transFigure,
                             facecolor='none', edgecolor='black', lw=1))
    fig.text(*fpos(30, 677), 'Diagramme ensembles ECMWF/CEP 0.4° sur 144h pour Strasbourg',
             fontsize=8.2, fontweight='bold', va='center')
    fig.text(*fpos(30, 691), 'Températures 850hPa et 500hPa (°C) , précipitations (mm)',
             fontsize=7.3, va='center')
    fig.text(*fpos(450, 676), 'Ensemble ECMWF/CEP du 23/10/2023 - 18Z', fontsize=7.3, va='center')
    fig.text(*fpos(450, 692), 'Copyright 2023 Meteociel.fr - ECMWF', fontsize=9.2,
             fontweight='bold', va='center')


fig = plt.figure(figsize=(7.4, 7.0), dpi=100)
ax = fig.add_axes([50 / W, 100 / H, 640 / W, 600 / H])
ymin, ymax = -52.43, 33.29
ax.set_xlim(0, 144)
ax.set_ylim(ymin, ymax)

draw_grid(ax)

# temperatures on the left scale: control first, members over it
ax.plot(hours, t850_ctrl, color='#0000ff', lw=2.0, zorder=2)
ax.plot(hours, t500_ctrl, color='#0000ff', lw=2.0, zorder=2)
draw_members(ax, hours, t850_members)
draw_members(ax, hours, t500_members)
ax.plot(hours[:len(t850_det)], t850_det, color='black', lw=2.0, zorder=4)
ax.plot(hours[:len(t500_det)], t500_det, color='black', lw=2.0, zorder=4)
ax.plot(hours, t850_mean, color='#ff0000', lw=3.3, zorder=5)
ax.plot(hours, t500_mean, color='#ff0000', lw=3.3, zorder=5)

# precipitation on the right scale (mm)
ax2 = ax.twinx()
ax2.set_ylim(ymin + 45, ymax + 45)
ax2.plot(hours[1:], precip_ctrl, color='#0000ff', lw=2.0, zorder=2)
draw_members(ax2, hours[1:], precip_members)
ax2.plot(hours[1:1 + len(precip_det)], precip_det, color='black', lw=2.0, zorder=4)
ax2.plot(hours[1:], precip_mean, color='#ff0000', lw=3.3, zorder=5)

ax.text(2.2, 13.9, 'Temp. 850hPa', fontsize=7.3, va='center')
ax.text(2.2, -12.9, 'Temp. 500hPa', fontsize=7.3, va='center')
ax.text(2.0, -34.1, 'Précipitations', fontsize=7.3, va='center')

ax.set_yticks(left_ticks)
ax.tick_params(axis='y', length=0, pad=21.6, labelsize=7.3)
plt.setp(ax.get_yticklabels(), ha='left')
ax2.set_yticks(right_ticks)
ax2.tick_params(axis='y', length=0, pad=13, labelsize=7.3)

ax.set_xticks(date_hours)
ax.set_xticklabels(date_labels, rotation=90, ha='left', va='top')
ax.tick_params(axis='x', length=0, pad=2, labelsize=7.3)

for a in (ax, ax2):
    a.spines['top'].set_visible(False)
    for s in ('left', 'right', 'bottom'):
        a.spines[s].set_linewidth(1.6)
        a.spines[s].set_color('black')

fig.text(*fpos(20, 607), '(°C)', fontsize=7.3, va='center')
fig.text(*fpos(707, 607), '(mm)', fontsize=7.3, va='center')

draw_legend(fig)
draw_footer(fig)

fig.savefig('out.png', dpi=100, facecolor='white')
